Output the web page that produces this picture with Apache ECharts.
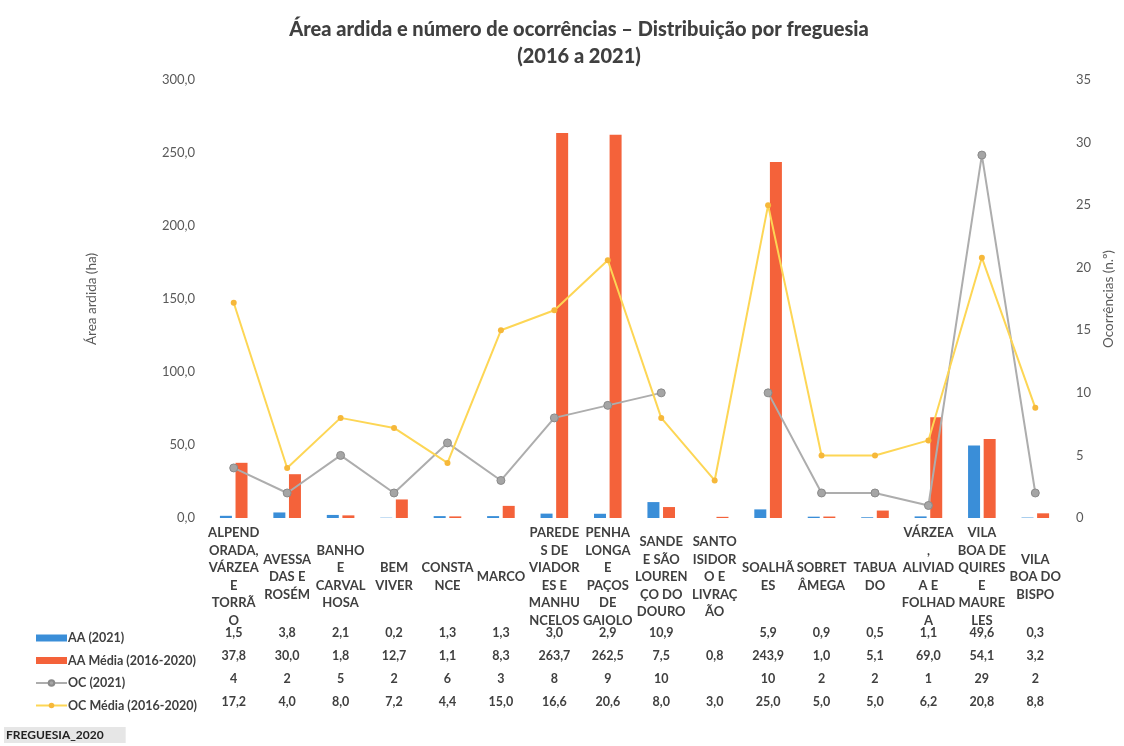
<!DOCTYPE html>
<html>
<head>
<meta charset="utf-8">
<title>Área ardida e número de ocorrências</title>
<script src="https://cdn.jsdelivr.net/npm/echarts@6/dist/echarts.min.js"></script>
<style>
  html, body { margin: 0; padding: 0; background: #fff; }
  #chart { width: 1124px; height: 746px; }
</style>
</head>
<body>
<div id="chart"></div>
<script>
// freguesias (como aparecem quebradas no eixo)
var categories = [
  "ALPEND\nORADA,\nVÁRZEA\nE\nTORRÃ\nO",
  "AVESSA\nDAS E\nROSÉM",
  "BANHO\nE\nCARVAL\nHOSA",
  "BEM\nVIVER",
  "CONSTA\nNCE",
  "MARCO",
  "PAREDE\nS DE\nVIADOR\nES E\nMANHU\nNCELOS",
  "PENHA\nLONGA\nE\nPAÇOS\nDE\nGAIOLO",
  "SANDE\nE SÃO\nLOUREN\nÇO DO\nDOURO",
  "SANTO\nISIDOR\nO E\nLIVRAÇ\nÃO",
  "SOALHÃ\nES",
  "SOBRET\nÂMEGA",
  "TABUA\nDO",
  "VÁRZEA\n,\nALIVIAD\nA E\nFOLHAD\nA",
  "VILA\nBOA DE\nQUIRES\nE\nMAURE\nLES",
  "VILA\nBOA DO\nBISPO"
];

var aa2021  = [1.5, 3.8, 2.1, 0.2, 1.3, 1.3, 3.0, 2.9, 10.9, null, 5.9, 0.9, 0.5, 1.1, 49.6, 0.3];
var aaMedia = [37.8, 30.0, 1.8, 12.7, 1.1, 8.3, 263.7, 262.5, 7.5, 0.8, 243.9, 1.0, 5.1, 69.0, 54.1, 3.2];
var oc2021  = [4, 2, 5, 2, 6, 3, 8, 9, 10, null, 10, 2, 2, 1, 29, 2];
var ocMedia = [17.2, 4.0, 8.0, 7.2, 4.4, 15.0, 16.6, 20.6, 8.0, 3.0, 25.0, 5.0, 5.0, 6.2, 20.8, 8.8];

var seriesNames = ["AA (2021)", "AA Média (2016-2020)", "OC (2021)", "OC Média (2016-2020)"];

var FONT = "Lato, 'Open Sans', sans-serif";
var TXT = "#404040";

function dec1(v) {
  return (v === null || v === undefined) ? "" : v.toFixed(1).replace(".", ",");
}
function int0(v) {
  return (v === null || v === undefined) ? "" : String(v);
}

// linhas da tabela de dados: eixos de categoria extra por baixo do gráfico
function tableAxis(values, fmt, offset) {
  return {
    type: "category",
    gridIndex: 0,
    position: "bottom",
    offset: offset,
    data: values.map(fmt),
    axisLine: { show: false },
    axisTick: { show: false },
    axisLabel: {
      interval: 0,
      margin: 0,
      verticalAlign: "middle",
      fontFamily: FONT,
      fontWeight: "bold",
      fontSize: 12.5,
      color: TXT
    }
  };
}

var chart = echarts.init(document.getElementById("chart"));

var option = {
  backgroundColor: "#fff",
  animation: false,
  title: {
    text: "Área ardida e número de ocorrências – Distribuição por freguesia\n(2016 a 2021)",
    left: 574,
    top: 11,
    textAlign: "center",
    textStyle: {
      fontFamily: FONT,
      fontWeight: 900,
      fontSize: 20,
      lineHeight: 27,
      color: TXT
    }
  },
  legend: {
    orient: "vertical",
    left: 30,
    top: 626,
    itemWidth: 31,
    itemHeight: 7,
    itemGap: 8.5,
    textStyle: {
      fontFamily: FONT,
      fontWeight: "bold",
      fontSize: 12.5,
      lineHeight: 14,
      color: TXT,
      padding: [0, 0, 0, -4]
    },
    data: [
      { name: seriesNames[0], icon: "rect" },
      { name: seriesNames[1], icon: "rect" },
      { name: seriesNames[2] },
      { name: seriesNames[3] }
    ]
  },
  grid: { left: 207, right: 58, top: 80, bottom: 228 },
  xAxis: [
    {
      type: "category",
      data: categories,
      axisLine: { show: false },
      axisTick: { show: false },
      axisLabel: {
        interval: 0,
        margin: 59,
        verticalAlign: "middle",
        fontFamily: FONT,
        fontWeight: "bold",
        fontSize: 13,
        lineHeight: 17.5,
        color: TXT
      }
    },
    tableAxis(aa2021, dec1, 115),
    tableAxis(aaMedia, dec1, 138),
    tableAxis(oc2021, int0, 161),
    tableAxis(ocMedia, dec1, 184)
  ],
  yAxis: [
    {
      type: "value",
      min: 0,
      max: 300,
      interval: 50,
      name: "Área ardida (ha)",
      nameLocation: "middle",
      nameGap: 108,
      nameRotate: 90,
      nameTextStyle: { fontFamily: FONT, fontSize: 13.5, color: "#595959" },
      splitLine: { show: false },
      axisLine: { show: false },
      axisTick: { show: false },
      axisLabel: {
        margin: 12,
        fontFamily: FONT,
        fontSize: 13,
        color: "#595959",
        formatter: function (v) { return dec1(v); }
      }
    },
    {
      type: "value",
      min: 0,
      max: 35,
      interval: 5,
      position: "right",
      name: "Ocorrências (n.º)",
      nameLocation: "middle",
      nameGap: 36,
      nameRotate: 90,
      nameTextStyle: { fontFamily: FONT, fontSize: 13.5, color: "#595959" },
      splitLine: { show: false },
      axisLine: { show: false },
      axisTick: { show: false },
      axisLabel: {
        margin: 14,
        fontFamily: FONT,
        fontSize: 13,
        color: "#595959"
      }
    }
  ],
  series: [
    {
      name: seriesNames[0],
      type: "bar",
      yAxisIndex: 0,
      barWidth: 12,
      barGap: "30%",
      itemStyle: { color: "#3a8ed8" },
      data: aa2021
    },
    {
      name: seriesNames[1],
      type: "bar",
      yAxisIndex: 0,
      barWidth: 12,
      barGap: "30%",
      itemStyle: { color: "#f4623a" },
      data: aaMedia
    },
    {
      name: seriesNames[2],
      type: "line",
      yAxisIndex: 1,
      connectNulls: false,
      symbol: "circle",
      symbolSize: 8,
      lineStyle: { color: "#adadad", width: 2 },
      itemStyle: { color: "#a5a5a5", borderColor: "#8a8a8a", borderWidth: 1 },
      data: oc2021
    },
    {
      name: seriesNames[3],
      type: "line",
      yAxisIndex: 1,
      symbol: "circle",
      symbolSize: 6,
      lineStyle: { color: "#fdd655", width: 2 },
      itemStyle: { color: "#f6b83a" },
      data: ocMedia
    }
  ],
  graphic: [
    {
      type: "text",
      left: 4,
      top: 727,
      style: {
        text: "FREGUESIA_2020",
        font: "bold 12px " + FONT,
        fill: "#222",
        backgroundColor: "#e6e6e6",
        padding: [2, 22, 2, 2]
      }
    }
  ]
};

chart.setOption(option);
</script>
</body>
</html>
